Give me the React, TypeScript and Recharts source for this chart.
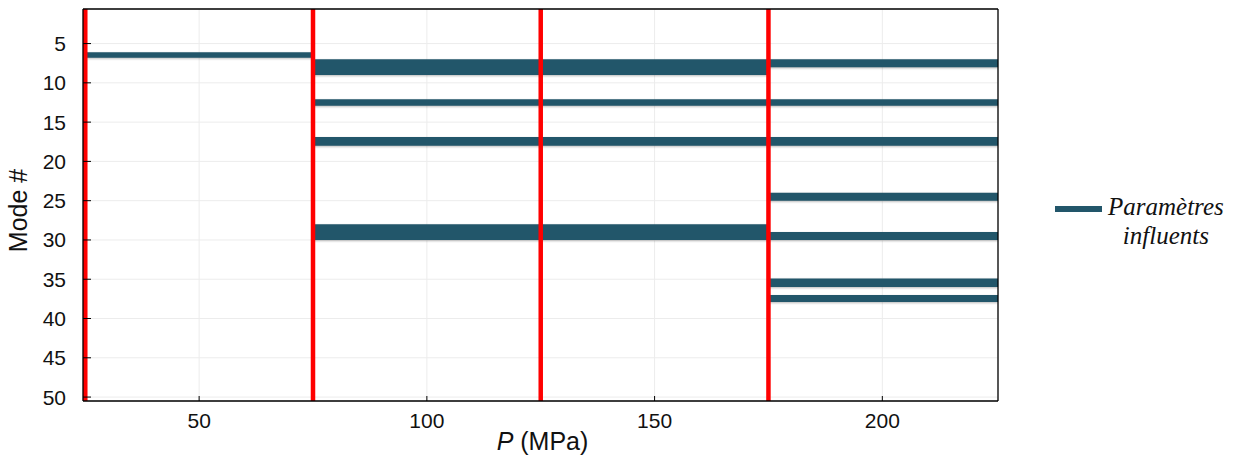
import React from "react";
import {
  ComposedChart,
  XAxis,
  YAxis,
  CartesianGrid,
  ReferenceArea,
  ReferenceLine,
  Legend,
  Label,
} from "recharts";

// P (MPa) axis
const pTicks = [50, 100, 150, 200];
const pDomain: [number, number] = [24.5, 225.4];

// Mode # axis (reversed)
const modeTicks = [5, 10, 15, 20, 25, 30, 35, 40, 45, 50];
const modeDomain: [number, number] = [0.6, 50.5];

// pressure levels (red lines)
const pressureLevels = [25, 75, 125, 175];

// influential parameter bands
const bandFrom = [25, 75, 75, 75, 75, 175, 175, 175, 175, 175, 175, 175];
const bandTo = [75, 175, 175, 175, 175, 225.4, 225.4, 225.4, 225.4, 225.4, 225.4, 225.4];
const modeLow = [6.1, 7, 12.1, 16.9, 28, 7, 12.1, 16.9, 24, 29, 34.9, 37];
const modeHigh = [6.8, 9, 12.9, 18, 30, 8, 12.9, 18, 25, 30, 36, 37.9];

const legendLabel = ["Paramètres", "influents"];

const BAND = "#22566a";
const SANS = "'Liberation Sans', Arial, sans-serif";
const SERIF = "'Liberation Serif', 'Times New Roman', serif";

const tickStyle = { fontSize: 21, fill: "#111", fontFamily: SANS };

function LegendBox() {
  return (
    <div style={{ display: "flex", alignItems: "flex-start" }}>
      <svg width={48} height={8} style={{ marginTop: 13 }}>
        <rect x={0} y={1} width={47} height={6} fill={BAND} />
      </svg>
      <div
        style={{
          fontFamily: SERIF,
          fontStyle: "italic",
          fontSize: 25,
          lineHeight: "29px",
          textAlign: "center",
          marginLeft: 5,
          color: "#111",
        }}
      >
        {legendLabel.map((t) => (
          <div key={t}>{t}</div>
        ))}
      </div>
    </div>
  );
}

export default function App() {
  return (
    <div style={{ position: "absolute", left: 0, top: 0, background: "#fff" }}>
      <ComposedChart
        width={1240}
        height={458}
        margin={{ top: 8, right: 5, bottom: 0, left: 0 }}
      >
        <CartesianGrid stroke="#ececec" strokeWidth={1} />
        <XAxis
          type="number"
          dataKey="p"
          domain={pDomain}
          ticks={pTicks}
          allowDataOverflow
          height={57}
          tickSize={-5}
          tickMargin={17.4}
          tick={tickStyle}
          axisLine={{ stroke: "#000", strokeWidth: 1.3 }}
          tickLine={{ stroke: "#000" }}
        >
          <Label
            content={({ viewBox }: any) => (
              <text
                x={viewBox.x + viewBox.width / 2 + 2}
                y={viewBox.y + 49}
                textAnchor="middle"
                fontFamily={SANS}
                fontSize={25}
                fill="#111"
              >
                <tspan fontStyle="italic">P</tspan> (MPa)
              </text>
            )}
          />
        </XAxis>
        <XAxis
          xAxisId="top"
          orientation="top"
          type="number"
          domain={pDomain}
          ticks={pTicks}
          allowDataOverflow
          height={1}
          tickSize={-5}
          tick={false}
          axisLine={{ stroke: "#000", strokeWidth: 1.3 }}
          tickLine={{ stroke: "#000" }}
        />
        <YAxis
          type="number"
          dataKey="mode"
          domain={modeDomain}
          ticks={modeTicks}
          reversed
          allowDataOverflow
          width={83}
          tickSize={-8}
          tickMargin={25}
          tick={tickStyle}
          axisLine={{ stroke: "#000", strokeWidth: 1.3 }}
          tickLine={{ stroke: "#000" }}
        >
          <Label
            content={({ viewBox }: any) => {
              const cx = 26.5;
              const cy = viewBox.y + viewBox.height / 2 + 5.5;
              return (
                <text
                  x={cx}
                  y={cy}
                  transform={`rotate(-90 ${cx} ${cy})`}
                  textAnchor="middle"
                  fontFamily={SANS}
                  fontSize={25}
                  fill="#111"
                >
                  Mode #
                </text>
              );
            }}
          />
        </YAxis>
        <YAxis
          yAxisId="right"
          orientation="right"
          type="number"
          domain={modeDomain}
          ticks={modeTicks}
          reversed
          allowDataOverflow
          width={1}
          tickSize={-10}
          tick={false}
          axisLine={{ stroke: "#000", strokeWidth: 1.3 }}
          tickLine={{ stroke: "#000" }}
        />
        {bandFrom.map((x1, i) => (
          <ReferenceArea
            key={`band-${i}`}
            x1={x1}
            x2={bandTo[i]}
            y1={modeLow[i]}
            y2={modeHigh[i]}
            fill={BAND}
            fillOpacity={1}
            stroke="none"
            ifOverflow="hidden"
            style={{ filter: "drop-shadow(0px 1.5px 1px rgba(0,0,0,0.28))" }}
          />
        ))}
        {pressureLevels.map((p) => (
          <ReferenceLine
            key={`p-${p}`}
            x={p}
            stroke="#ff0000"
            strokeWidth={4.5}
            ifOverflow="extendDomain"
          />
        ))}
        <Legend
          layout="vertical"
          align="right"
          verticalAlign="middle"
          width={236}
          wrapperStyle={{ left: 1055, top: 192, right: "auto" }}
          content={() => <LegendBox />}
        />
      </ComposedChart>
    </div>
  );
}
